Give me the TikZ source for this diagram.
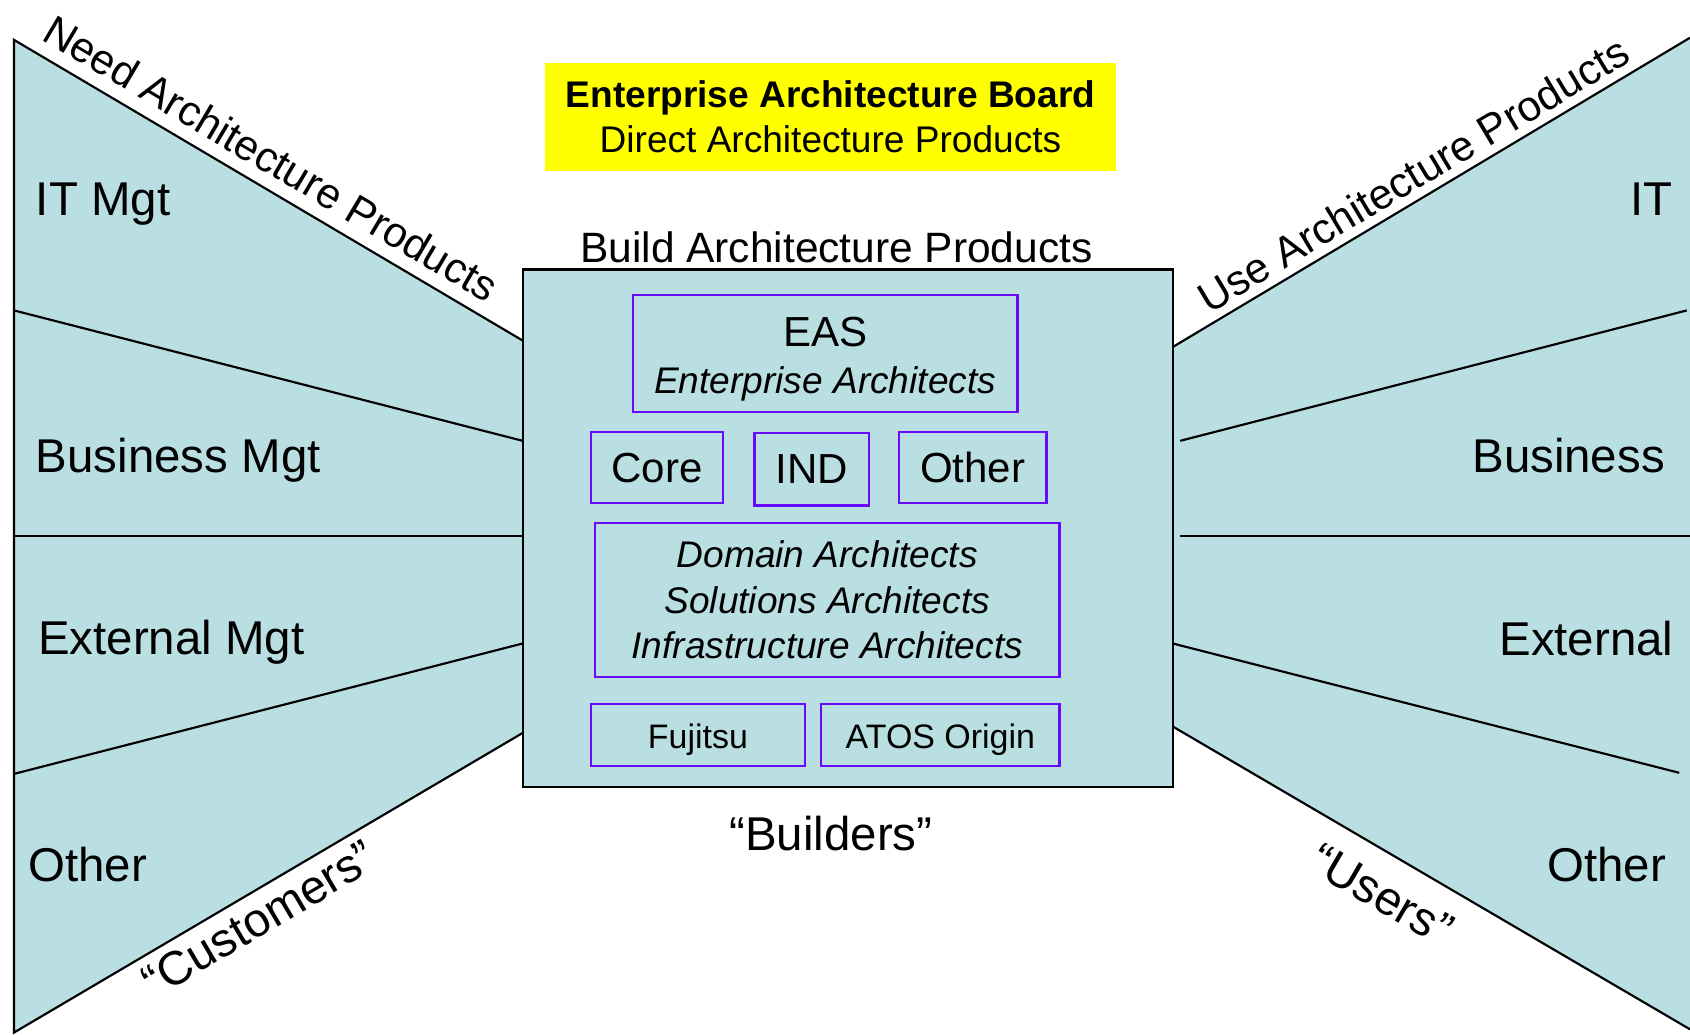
\documentclass[tikz,border=0pt]{standalone}
\usepackage{fontspec}
\setmainfont{Liberation Sans}
\definecolor{fillblue}{RGB}{186,223,226}
\definecolor{boxpurple}{RGB}{105,10,250}
\definecolor{boardyellow}{RGB}{255,255,0}
\begin{document}
\begin{tikzpicture}[x=0.5pt,y=-0.5pt,
  outline/.style={draw=black, line width=1pt},
  bigtext/.style={font=\fontsize{22}{26}\selectfont, inner sep=0pt},
  slanttext/.style={font=\fontsize{19.7}{24}\selectfont, inner sep=6pt},
  pbox/.style={draw=boxpurple, line width=1pt, fill=fillblue, inner sep=0pt, align=center},
  midtext/.style={font=\fontsize{19.5}{23}\selectfont},
  ittext/.style={font=\fontsize{17.2}{21}\selectfont\itshape},
  smalltext/.style={font=\fontsize{15.75}{19}\selectfont, text height=13pt, text depth=1pt}]
\useasboundingbox (0,0) rectangle (1568,960);
% left wedge
\fill[fillblue] (13,37) -- (485,316) -- (485,680) -- (13,958) -- cycle;
\draw[outline] (485,316) -- (13,37) -- (13,958) -- (485,680);
\draw[outline] (13,288) -- (485,409);
\draw[outline] (13,497) -- (492,497);
\draw[outline] (13,718) -- (485,597);
% right wedge
\fill[fillblue] (1088,322) -- (1568,35) -- (1568,955) -- (1088,674) -- cycle;
\draw[outline] (1088,322) -- (1568,35);
\draw[outline] (1088,674) -- (1568,955);
\draw[outline] (1095,409) -- (1565,288);
\draw[outline] (1095,497) -- (1568,497);
\draw[outline] (1088,597) -- (1558,717);
% central box
\node[outline, fill=fillblue, minimum width=301.5pt, minimum height=240pt, inner sep=0pt] (builders) at (786.5,490) {};
% yellow board
\node[fill=boardyellow, minimum width=264.5pt, minimum height=50.5pt, inner sep=0pt, align=center,
      font=\fontsize{17.2}{21}\selectfont] (board) at (770.5,108.5)
  {\textbf{Enterprise Architecture Board}\\Direct Architecture Products};
\node[font=\fontsize{19.7}{23}\selectfont, inner sep=0pt] (build) at (776,229) {Build Architecture Products};
\node[bigtext] (buildlbl) at (771,773) {“Builders”};
% inner boxes
\node[pbox, minimum width=178.5pt, minimum height=54pt, font=\fontsize{17.2}{22}\selectfont] (eas) at (765.5,328)
  {\rule{0pt}{19pt}{\fontsize{19.5}{22}\selectfont EAS}\\{\itshape Enterprise Architects}};
\node[pbox, midtext, minimum width=61.5pt, minimum height=33pt] (core) at (609.5,434) {Core};
\node[pbox, midtext, minimum width=53pt, minimum height=33.5pt] (ind) at (753,435.5) {IND};
\node[pbox, midtext, minimum width=68.5pt, minimum height=33pt] (other) at (902.5,434) {Other};
\node[pbox, ittext, minimum width=215.5pt, minimum height=71.5pt] (domain) at (767.5,556.5)
  {Domain Architects\\Solutions Architects\\Infrastructure Architects};
\node[pbox, smalltext, minimum width=99.5pt, minimum height=29pt] (fujitsu) at (647.5,682) {Fujitsu};
\node[pbox, smalltext, minimum width=110.5pt, minimum height=29pt] (atos) at (872.5,682) {ATOS Origin};
% left labels
\node[bigtext, anchor=west] (itmgt) at (33,189) {IT Mgt};
\node[bigtext, anchor=west] (busmgt) at (33,427) {Business Mgt};
\node[bigtext, anchor=west] (extmgt) at (35,596) {External Mgt};
\node[bigtext, anchor=west] (othleft) at (26,802) {Other};
% right labels
\node[bigtext, anchor=east] (it) at (1552,185) {IT};
\node[bigtext, anchor=east] (bus) at (1545,423) {Business};
\node[bigtext, anchor=east] (ext) at (1553,592) {External};
\node[bigtext, anchor=east] (othright) at (1546,802) {Other};
% slanted labels
\node[slanttext, anchor=south, rotate=-30.6] (need) at (238,170) {Need Architecture Products};
\node[slanttext, anchor=south, rotate=30.9] (use) at (1325,185) {Use Architecture Products};
\node[bigtext, inner sep=4pt, anchor=north, rotate=30.5] (cust) at (228,832) {“Customers”};
\node[bigtext, inner sep=10pt, anchor=north, rotate=-30.3] (users) at (1300,799) {“Users”};
\end{tikzpicture}
\end{document}
